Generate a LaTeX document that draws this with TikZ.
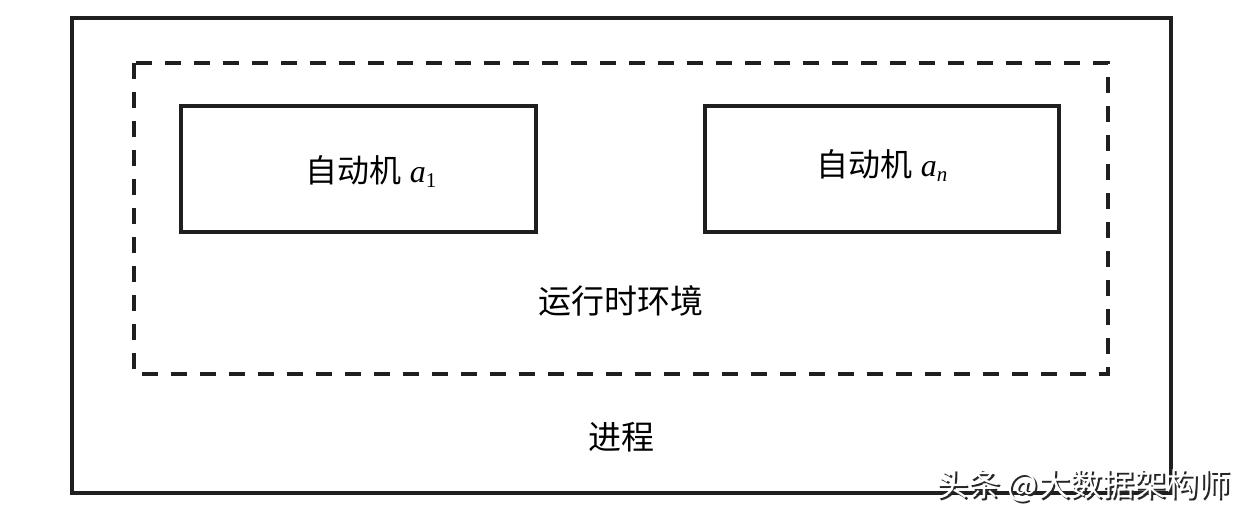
\documentclass[tikz,border=0pt]{standalone}
\usepackage{fontspec}
\setmainfont{Liberation Serif}
\newfontfamily\cjk{Noto Sans CJK SC}
\begin{document}
\begin{tikzpicture}[x=1pt,y=-1pt,
  box/.style={draw=black!88,line width=3.2pt},
  dbox/.style={draw=black!88,line width=3.2pt,dash pattern=on 16pt off 13pt},
  lbl/.style={font=\fontsize{32}{36}\selectfont,inner sep=0pt,anchor=center},
  wm/.style={font=\cjk\fontsize{32}{36}\selectfont,inner sep=0pt,anchor=center}]
\useasboundingbox (0,0) rectangle (1248,516);
\fill[white] (0,0) rectangle (1248,516);
\draw[box] (72,18) rectangle (1171,493);
\draw[dbox] (134,63) rectangle (1108,374);
\node[box,minimum width=355pt,minimum height=126pt,inner sep=0pt] (a1) at (358.5,169) {};
\node[box,minimum width=354pt,minimum height=126pt,inner sep=0pt] (an) at (882,169) {};
\node[lbl] (t1) at (371,172) {{\cjk 自动机} {\itshape a}\raisebox{-5pt}{\fontsize{21}{24}\selectfont 1}};
\node[lbl] (tn) at (882,166) {{\cjk 自动机} {\itshape a}\raisebox{-5pt}{\fontsize{21}{24}\selectfont\itshape n}};
\node[lbl,font=\cjk\fontsize{33}{36}\selectfont] (rt) at (621,301) {运行时环境};
\node[lbl,font=\cjk\fontsize{33}{36}\selectfont] (pr) at (621,437) {进程};
\node[wm,text=black!85] (wm1) at (1085.5,487.5) {头条 @大数据架构师};
\node[wm,text=white] (wm2) at (1083.5,485.5) {头条 @大数据架构师};
\end{tikzpicture}
\end{document}
